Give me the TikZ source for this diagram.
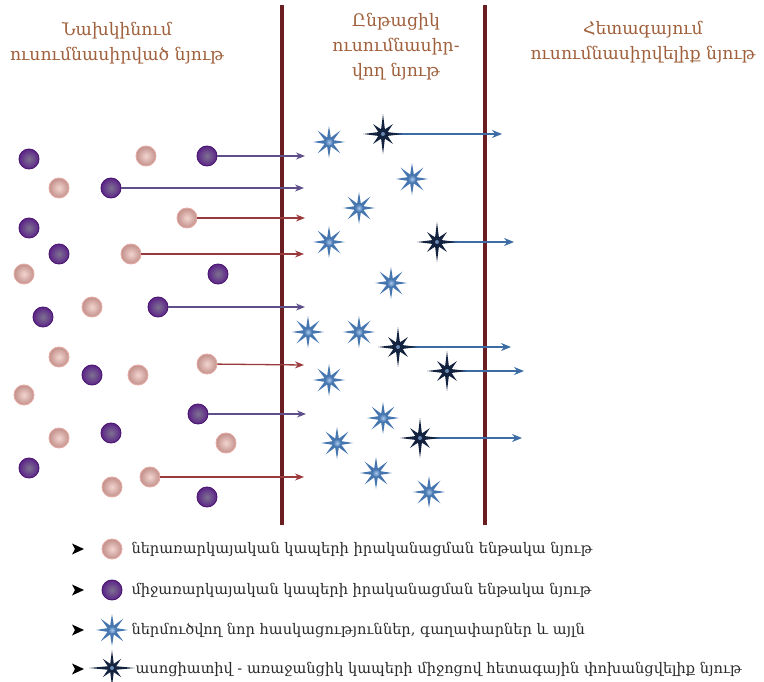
\documentclass[tikz,border=0pt]{standalone}
\usepackage{fontspec}
\setmainfont{DejaVu Serif}
\usetikzlibrary{arrows.meta,calc}
\definecolor{wall}{HTML}{6B1E22}
\definecolor{titlec}{HTML}{A0603C}
\definecolor{pinkin}{HTML}{F2D4D0}
\definecolor{pinkout}{HTML}{C2908A}
\definecolor{pinkedge}{HTML}{E4AAA4}
\definecolor{purin}{HTML}{7E7290}
\definecolor{purout}{HTML}{5C2488}
\definecolor{puredge}{HTML}{4A1870}
\definecolor{parrowc}{HTML}{5E4E8A}
\definecolor{rarrowc}{HTML}{9A3A3C}
\definecolor{lstarc}{HTML}{4676B0}
\definecolor{lstarin}{HTML}{A8C8EC}
\definecolor{dstarc}{HTML}{13223E}
\definecolor{dstarin}{HTML}{6A8AB4}
\definecolor{barrowc}{HTML}{3C6CA4}
\definecolor{legtext}{HTML}{2A2A2A}
\begin{document}
\begin{tikzpicture}[x=1pt,y=-1pt,
  pinkball/.style={circle, minimum size=20pt, inner sep=0pt, inner color=pinkin, outer color=pinkout, draw=pinkedge, line width=0.9pt},
  purball/.style={circle, minimum size=20pt, inner sep=0pt, inner color=purin, outer color=purout, draw=puredge, line width=0.9pt},
  parrow/.style={draw=parrowc, line width=1.3pt, -{Stealth[length=9pt,width=7pt]}},
  rarrow/.style={draw=rarrowc, line width=1.3pt, -{Stealth[length=9pt,width=7pt]}},
  barrow/.style={draw=barrowc, line width=1.4pt, -{Stealth[length=10pt,width=8pt]}},
  wallline/.style={draw=wall, line width=3.5pt},
  titletext/.style={text=titlec, align=center, font=\fontsize{17.2}{25}\selectfont},
  legendtext/.style={text=legtext, anchor=west, font=\fontsize{14.6}{18}\selectfont},
  bulletmark/.style={fill=black},
  lightstar/.pic={
    \fill[lstarc] (0:16) \foreach \a in {0,45,...,315}{ -- (\a:16) -- (\a+22.5:4.8)} -- cycle;
    \shade[inner color=lstarin, outer color=lstarc] (0,0) circle (4);
  },
  darkstar/.pic={
    \fill[dstarc] (0:20) \foreach \a/\R in {0/20,45/14,90/20,135/14,180/20,225/14,270/20,315/14}{ -- (\a:\R) -- (\a+22.5:5)} -- cycle;
    \fill[dstarin] (0,0) circle (2);
  },
  legdarkstar/.pic={
    \fill[dstarc] (0:23) \foreach \a/\R in {0/23,45/13,90/18,135/13,180/23,225/13,270/18,315/13}{ -- (\a:\R) -- (\a+22.5:4.6)} -- cycle;
    \fill[dstarin] (0,0) circle (2);
  }
]
\useasboundingbox (0,0) rectangle (764,682);

% walls
\coordinate (w1t) at (282,5); \coordinate (w1b) at (282,525);
\coordinate (w2t) at (485,5); \coordinate (w2b) at (485,525);
\draw[wallline] (w1t) -- (w1b);
\draw[wallline] (w2t) -- (w2b);

% titles
\node[titletext] (t1) at (117,43) {Նախկինում\\ուսումնասիրված նյութ};
\node[titletext] (t2) at (396,47) {Ընթացիկ\\ուսումնասիր-\\վող նյութ};
\node[titletext] (t3) at (643,42) {Հետագայում\\ուսումնասիրվելիք նյութ};

% circles
\node[purball] (c1) at (29,159) {};
\node[pinkball] (c2) at (146,156) {};
\node[purball] (c3) at (207,156) {};
\node[pinkball] (c4) at (59,188) {};
\node[purball] (c5) at (111,188) {};
\node[pinkball] (c6) at (187,218) {};
\node[purball] (c7) at (29,228) {};
\node[purball] (c8) at (59,254) {};
\node[pinkball] (c9) at (131,254) {};
\node[pinkball] (c10) at (24,274) {};
\node[purball] (c11) at (218,274) {};
\node[pinkball] (c12) at (92,307) {};
\node[purball] (c13) at (158,307) {};
\node[purball] (c14) at (43,317) {};
\node[pinkball] (c15) at (59,357) {};
\node[purball] (c16) at (92,375) {};
\node[pinkball] (c17) at (138,375) {};
\node[pinkball] (c18) at (207,364) {};
\node[pinkball] (c19) at (24,395) {};
\node[purball] (c20) at (198,414) {};
\node[pinkball] (c21) at (59,438) {};
\node[purball] (c22) at (111,433) {};
\node[pinkball] (c23) at (226,443) {};
\node[purball] (c24) at (29,468) {};
\node[pinkball] (c25) at (112,487) {};
\node[pinkball] (c26) at (150,477) {};
\node[purball] (c27) at (207,497) {};

% arrow ends for circles
\coordinate (e3) at (305,156);
\coordinate (e5) at (304,188);
\coordinate (e6) at (305,218);
\coordinate (e9) at (304,254);
\coordinate (e13) at (305,307);
\coordinate (e18) at (304,365);
\coordinate (e20) at (306,414);
\coordinate (e26) at (304,477);
\draw[parrow] (c3) -- (e3);
\draw[parrow] (c5) -- (e5);
\draw[rarrow] (c6) -- (e6);
\draw[rarrow] (c9) -- (e9);
\draw[parrow] (c13) -- (e13);
\draw[rarrow] (c18) -- (e18);
\draw[parrow] (c20) -- (e20);
\draw[rarrow] (c26) -- (e26);

% star positions
\coordinate (s1) at (329,142);
\coordinate (s2) at (412,179);
\coordinate (s3) at (359,208);
\coordinate (s4) at (329,242);
\coordinate (s5) at (391,283);
\coordinate (s6) at (308,332);
\coordinate (s7) at (359,332);
\coordinate (s8) at (329,380);
\coordinate (s9) at (383,418);
\coordinate (s10) at (337,443);
\coordinate (s11) at (376,473);
\coordinate (s12) at (429,492);
\coordinate (d1) at (383,134);
\coordinate (d2) at (437,242);
\coordinate (d3) at (398,347);
\coordinate (d4) at (447,371);
\coordinate (d5) at (420,438);
\coordinate (f1) at (502,134);
\coordinate (f2) at (514,242);
\coordinate (f3) at (511,347);
\coordinate (f4) at (524,371);
\coordinate (f5) at (522,438);

\draw[barrow] (d1) -- (f1);
\draw[barrow] (d2) -- (f2);
\draw[barrow] (d3) -- (f3);
\draw[barrow] (d4) -- (f4);
\draw[barrow] (d5) -- (f5);

\foreach \s in {s1,s2,s3,s4,s5,s6,s7,s8,s9,s10,s11,s12} \pic at (\s) {lightstar};
\foreach \s in {d1,d2,d3,d4,d5} \pic at (\s) {darkstar};

% legend
\foreach \y/\n in {549/b1,590/b2,630/b3,669/b4} {
  \coordinate (\n) at (78,\y);
  \fill[bulletmark] ($(\n)+(-6,-5.5)$) -- ($(\n)+(6,0)$) -- ($(\n)+(-6,5.5)$) -- ($(\n)+(-3,0)$) -- cycle;
}
\node[pinkball] (lg1) at (112,549) {};
\node[purball] (lg2) at (112,590) {};
\coordinate (lg3) at (112,630);
\coordinate (lg4) at (112,668);
\pic at (lg3) {lightstar};
\pic at (lg4) {legdarkstar};
\node[legendtext] (tx1) at (128,549) {ներառարկայական կապերի իրականացման ենթակա նյութ};
\node[legendtext] (tx2) at (128,590) {միջառարկայական կապերի իրականացման ենթակա նյութ};
\node[legendtext] (tx3) at (128,630) {ներմուծվող նոր հասկացություններ, գաղափարներ և այլն};
\node[legendtext] (tx4) at (132,669) {ասոցիատիվ - առաջանցիկ կապերի միջոցով հետագային փոխանցվելիք նյութ};
\end{tikzpicture}
\end{document}
